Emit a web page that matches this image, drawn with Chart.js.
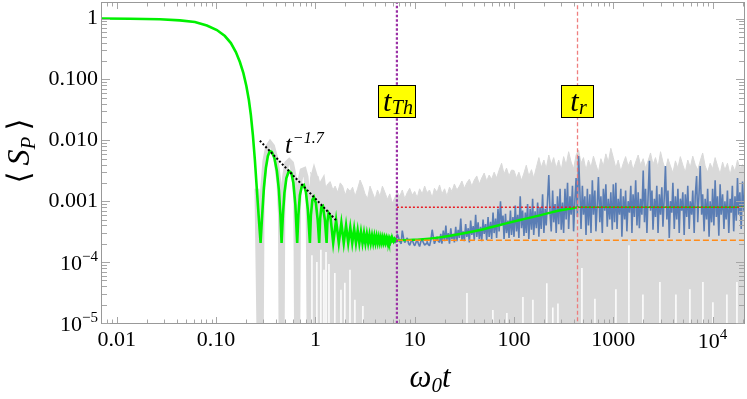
<!DOCTYPE html>
<html><head><meta charset="utf-8">
<script src="https://cdn.jsdelivr.net/npm/chart.js@4.4.1/dist/chart.umd.min.js"></script>
<style>html,body{margin:0;padding:0;background:#fff;}canvas{display:block;}</style>
</head><body>
<canvas id="c" width="747" height="399"></canvas>
<script>
// ---------------- data ----------------
const xTickValues = [0.01, 0.1, 1, 10, 100, 1000, 10000];
const xTickLabels = ['0.01', '0.10', '1', '10', '100', '1000', '10^4'];
const yTickValues = [1e-5, 1e-4, 1e-3, 1e-2, 0.1, 1];
const yTickLabels = ['10^\u22125', '10^\u22124', '0.001', '0.010', '0.100', '1'];

// green: average <S_P>, oscillating decay
const greenT = [0.00708,0.01355,0.0272,0.0432,0.0612,0.0808,0.1019,0.1227,0.141,0.1582,0.1737,0.1884,0.2018,0.2139,0.2241,0.2348,0.2459,0.2576,0.268,0.2806,
0.2912,0.303,0.3173,0.3323,0.348,0.3646,0.3865,0.4096,0.4289,0.4443,0.4566,
0.4709,0.4874,0.5105,0.5409,0.573,0.6004,0.6287,0.6557,
0.6742,0.698,0.7312,0.7659,0.8023,0.8403,0.8803,
0.901,0.9328,0.9658,1.0117,1.0548,1.092,
1.118,1.149,1.19,1.2465,1.297,
1.321,1.358,1.416,1.511,
1.616,1.721,1.826,1.931,2.036,2.141,2.246,2.351,2.456,2.561,2.666,2.771,2.876,2.981,3.086,3.191,3.296,3.401,3.506,3.611,3.716,3.821,3.926,4.031,4.136,4.241,4.346,4.451,4.556,4.661,4.766,4.871,4.976,5.081,5.186,5.291,5.396,5.501,5.606,5.711,5.816,5.921,6.026,6.131,6.236,6.341,6.446,6.551,6.62];
const greenV = [1.0,0.99,0.974,0.934,0.876,0.767,0.647,0.516,0.396,0.282,0.193,0.127,0.078,0.0459,0.026,0.0122,0.00475,0.00153,5.93e-4,2.06e-4,
5.93e-4,1.65e-3,3.51e-3,5.52e-3,6.67e-3,6.43e-3,5.12e-3,3.13e-3,1.53e-3,5.93e-4,2.06e-4,
5.93e-4,1.36e-3,2.4e-3,3.13e-3,2.9e-3,1.99e-3,8.67e-4,2.06e-4,
5.93e-4,1.26e-3,1.78e-3,1.85e-3,1.42e-3,7.18e-4,2.06e-4,
5.93e-4,1.05e-3,1.17e-3,9.33e-4,4.91e-4,2.06e-4,
5.3e-4,8.03e-4,8.34e-4,4.91e-4,2.06e-4,
4.55e-4,6.4e-4,5.71e-4,2.06e-4,
4.9e-4,2.06e-4,4.39e-4,2.06e-4,3.99e-4,2.06e-4,3.7e-4,2.06e-4,3.5e-4,2.06e-4,3.3e-4,2.06e-4,3.12e-4,2.06e-4,3.0e-4,2.06e-4,2.89e-4,2.06e-4,2.81e-4,2.07e-4,2.73e-4,2.07e-4,2.68e-4,2.08e-4,2.63e-4,2.08e-4,2.58e-4,2.09e-4,2.55e-4,2.1e-4,2.52e-4,2.11e-4,2.49e-4,2.12e-4,2.47e-4,2.13e-4,2.44e-4,2.14e-4,2.41e-4,2.16e-4,2.4e-4,2.18e-4,2.37e-4,2.2e-4,2.35e-4,2.22e-4,2.32e-4,2.25e-4,2.28e-4];
const greenSmoothT = [6.62,8.95,11.28,17.94,28.5,45.4,72.1,114.7,182.3,258.2,325.6,382.8,436];
const greenSmoothV = [2.28e-4,2.32e-4,2.35e-4,2.55e-4,2.89e-4,3.37e-4,4.07e-4,4.91e-4,5.86e-4,6.78e-4,7.31e-4,7.64e-4,7.94e-4];

// upper edge of the grey cloud of realisations
const grayT = [0.891,0.944,1.0,1.06,1.12,1.19,
1.26,1.33,1.41,1.5,1.58,1.68,1.78,1.88,2.0,2.11,2.24,2.37,2.51,2.66,2.82,2.99,3.16,3.35,3.55,3.76,3.98,4.22,4.47,4.73,5.01,5.31,5.62,5.96,6.31,6.68,7.08,7.5,7.94,8.41,8.91,9.44,
10,10.6,11.2,11.9,12.6,13.3,14.1,15,15.8,16.8,17.8,18.8,20,21.1,22.4,23.7,25.1,26.6,28.2,29.9,31.6,33.5,35.5,37.6,39.8,42.2,44.7,47.3,50.1,53.1,56.2,59.6,63.1,66.8,70.8,75,79.4,84.1,89.1,94.4,
100,106,112,119,126,133,141,150,158,168,178,188,200,211,224,237,251,266,282,299,316,335,355,376,398,422,447,473,501,531,562,596,631,668,708,750,794,841,891,944,
1000,1060,1120,1190,1260,1330,1410,1500,1580,1680,1780,1880,2000,2110,2240,2370,2510,2660,2820,2990,3160,3350,3550,3760,3980,4220,4470,4730,5010,5310,5620,5960,6310,6680,7080,7500,7940,8410,8910,9440,
10000,10600,11200,11900,12600,13300,14100,15000,15800,16800,17800,18800,20000,21100];
const grayTop = [3.0e-3,2.4e-3,2.1e-3,2.6e-3,1.85e-3,2.2e-3,
1.63e-3,1.92e-3,2.1e-3,1.53e-3,1.77e-3,1.4e-3,2.0e-3,1.77e-3,1.26e-3,1.63e-3,1.45e-3,1.7e-3,1.21e-3,1.6e-3,2.23e-3,1.77e-3,1.32e-3,1.1e-3,1.77e-3,1.38e-3,1.08e-3,1.53e-3,1.21e-3,1.77e-3,1.4e-3,1.08e-3,1.32e-3,9.3e-4,1.15e-3,1.4e-3,1.21e-3,1.53e-3,1.1e-3,1.38e-3,1.63e-3,1.26e-3,
1.45e-3,1.15e-3,1.6e-3,1.32e-3,1.77e-3,1.38e-3,1.53e-3,1.15e-3,1.63e-3,1.4e-3,1.85e-3,1.32e-3,1.6e-3,1.21e-3,1.7e-3,1.45e-3,1.92e-3,1.53e-3,1.77e-3,2.15e-3,1.63e-3,2.0e-3,2.3e-3,1.77e-3,2.23e-3,2.6e-3,1.92e-3,2.4e-3,2.9e-3,2.15e-3,2.69e-3,2.3e-3,3.0e-3,2.4e-3,3.25e-3,4.2e-3,2.8e-3,3.5e-3,2.6e-3,3.25e-3,
3.2e-3,2.4e-3,3.0e-3,2.2e-3,2.9e-3,3.9e-3,2.6e-3,3.3e-3,2.4e-3,3.6e-3,5.2e-3,3.6e-3,4.75e-3,3.4e-3,5.74e-3,4.0e-3,5.2e-3,3.5e-3,4.75e-3,3.25e-3,5.4e-3,3.93e-3,6.5e-3,4.4e-3,3.4e-3,5.74e-3,6.93e-3,4.2e-3,5.2e-3,3.25e-3,4.75e-3,3.6e-3,5.5e-3,4.0e-3,3.0e-3,5.0e-3,3.8e-3,6.0e-3,4.4e-3,7.4e-3,
5.2e-3,3.5e-3,4.75e-3,3.1e-3,4.2e-3,5.4e-3,3.8e-3,4.75e-3,3.25e-3,4.4e-3,5.74e-3,3.93e-3,5.0e-3,3.5e-3,4.6e-3,6.2e-3,4.0e-3,5.2e-3,3.6e-3,6.5e-3,4.4e-3,3.25e-3,5.0e-3,3.8e-3,2.9e-3,4.6e-3,3.5e-3,5.4e-3,3.93e-3,3.0e-3,4.75e-3,3.6e-3,5.5e-3,4.0e-3,3.25e-3,4.6e-3,6.2e-3,3.8e-3,3.0e-3,4.2e-3,
3.4e-3,5.2e-3,3.8e-3,2.8e-3,4.4e-3,3.25e-3,4.2e-3,2.69e-3,3.93e-3,3.1e-3,4.75e-3,3.5e-3,4.0e-3,3.6e-3];

// blue: one realisation
const blueT = [2.99,3.08,3.16,3.26,3.35,3.46,3.55,3.66,3.76,3.88,3.98,4.11,4.22,4.35,4.47,4.61,4.73,4.88,5.01,5.17,5.31,5.48,5.62,5.81,5.96,6.15,6.31,6.52,6.68,6.9,7.08,7.31,7.5,7.75,7.94,8.21,8.41,8.69,8.91,9.21,9.44,9.76,
10,10.3,10.6,10.9,11.2,11.55,11.9,12.2,12.6,13,13.3,13.7,14.1,14.55,15,15.4,15.8,16.3,16.8,17.3,17.8,18.3,18.8,19.4,20,20.6,21.1,21.8,22.4,23.1,23.7,24.5,25.1,25.9,26.6,27.4,28.2,29.1,29.9,30.8,31.6,32.6,33.5,34.6,35.5,36.6,37.6,38.8,39.8,41.1,42.2,43.5,44.7,46.1,47.3,48.8,50.1,51.7,53.1,54.8,56.2,58.1,59.6,61.5,63.1,65.2,66.8,69,70.8,73.1,75,77.5,79.4,82.1,84.1,86.9,89.1,92.1,94.4,97.6,
100,103,106,109,112,115.5,119,122,126,130,133,137,141,145.5,150,154,158,163,168,173,178,183,188,194,200,206,211,218,224,231,237,245,251,259,266,274,282,291,299,308,316,326,335,346,355,366,376,388,398,411,422,435,447,461,473,488,501,517,531,548,562,581,596,615,631,652,668,690,708,731,750,775,794,821,841,869,891,921,944,976,
1000,1030,1060,1090,1120,1155,1190,1220,1260,1300,1330,1370,1410,1455,1500,1540,1580,1630,1680,1730,1780,1830,1880,1940,2000,2060,2110,2180,2240,2310,2370,2450,2510,2590,2660,2740,2820,2910,2990,3080,3160,3260,3350,3460,3550,3660,3760,3880,3980,4110,4220,4350,4470,4610,4730,4880,5010,5170,5310,5480,5620,5810,5960,6150,6310,6520,6680,6900,7080,7310,7500,7750,7940,8210,8410,8690,8910,9210,9440,9760,
10000,10300,10600,10900,11200,11550,11900,12200,12600,13000,13300,13700,14100,14550,15000,15400,15800,16300,16800,17300,17800,18300,18800,19400,20000,20600,21100];
const blueV = [2.2e-4,2.05e-4,2.0e-4,2.3e-4,2.4e-4,2.1e-4,2.1e-4,2.35e-4,2.3e-4,2.0e-4,1.95e-4,2.2e-4,2.5e-4,2.3e-4,2.05e-4,2.15e-4,2.3e-4,2.0e-4,2.0e-4,2.4e-4,2.6e-4,2.1e-4,1.9e-4,2.2e-4,2.3e-4,2.45e-4,2.05e-4,2.2e-4,2.9e-4,2.5e-4,2.2e-4,2.0e-4,3.3e-4,2.4e-4,2.1e-4,2.3e-4,2.5e-4,2.0e-4,1.9e-4,2.2e-4,2.3e-4,2.0e-4,
1.85e-4,2.1e-4,2.3e-4,2.0e-4,1.8e-4,2.2e-4,2.4e-4,2.1e-4,1.9e-4,2.0e-4,2.2e-4,1.95e-4,1.85e-4,2.3e-4,3.4e-4,2.6e-4,2.0e-4,2.3e-4,2.6e-4,2.2e-4,
2.1e-4,2.9e-4,2.0e-4,3.3e-4,2.2e-4,4.0e-4,2.3e-4,3.0e-4,2.0e-4,3.6e-4,2.4e-4,2.9e-4,2.1e-4,3.8e-4,2.2e-4,3.4e-4,2.5e-4,5.2e-4,2.3e-4,3.2e-4,
2.2e-4,4.2e-4,2.6e-4,3.6e-4,2.1e-4,4.8e-4,2.8e-4,3.9e-4,2.3e-4,6.0e-4,2.6e-4,4.5e-4,2.4e-4,3.8e-4,2.2e-4,5.0e-4,2.9e-4,4.2e-4,2.3e-4,5.5e-4,
2.6e-4,4.6e-4,2.4e-4,6.5e-4,3.0e-4,5.2e-4,2.5e-4,7.5e-4,3.2e-4,1.0e-3,4.0e-4,5.8e-4,2.4e-4,6.2e-4,3.0e-4,4.8e-4,2.5e-4,7.0e-4,2.8e-4,5.5e-4,
2.6e-4,8.5e-4,3.2e-4,6.0e-4,2.5e-4,1.2e-3,3.6e-4,7.0e-4,2.7e-4,6.5e-4,3.0e-4,9.0e-4,2.4e-4,7.5e-4,3.4e-4,1.1e-3,2.8e-4,6.8e-4,3.6e-4,9.5e-4,
2.6e-4,8.0e-4,3.5e-4,1.3e-3,3.0e-4,7.5e-4,4.0e-4,1.1e-3,2.7e-3,6.0e-4,3.2e-4,1.5e-3,4.5e-4,9.0e-4,3.0e-4,1.2e-3,4.2e-4,1.6e-3,3.4e-4,9.5e-4,
3.0e-4,1.6e-3,5.0e-4,2.0e-3,3.5e-4,1.2e-3,6.0e-4,1.8e-3,3.2e-4,1.1e-3,2.4e-3,5.5e-4,5.5e-3,1.4e-3,3.5e-4,1.8e-3,6.0e-4,1.2e-3,2.8e-4,1.6e-3,
4.0e-4,1.3e-3,3.0e-4,2.2e-3,6.0e-4,1.5e-3,3.2e-4,9.5e-4,2.5e-3,4.5e-4,1.2e-3,3.0e-4,1.6e-3,7.0e-4,1.9e-3,3.8e-4,1.1e-3,5.0e-4,1.4e-3,3.4e-4,
1.9e-3,4.5e-4,2.0e-3,3.5e-4,1.1e-3,6.0e-4,1.6e-3,2.6e-4,1.2e-3,5.0e-4,1.5e-3,3.2e-4,1.0e-3,6.5e-4,1.8e-3,3.0e-4,1.3e-3,5.5e-4,2.2e-3,4.0e-4,
1.4e-3,3.6e-4,1.1e-3,6.0e-4,3.2e-3,4.5e-4,1.6e-3,3.0e-4,1.2e-3,4.6e-3,7.0e-4,1.5e-3,3.4e-4,1.1e-3,5.5e-4,1.8e-3,3.0e-4,1.3e-3,6.0e-4,1.7e-3,
3.8e-4,1.2e-3,3.8e-3,5.0e-4,1.5e-3,2.5e-4,1.0e-3,6.5e-4,2.0e-3,3.5e-4,1.2e-3,5.0e-4,1.6e-3,3.0e-4,1.1e-3,7.0e-4,1.4e-3,2.8e-4,1.3e-3,5.5e-4,
1.8e-3,3.5e-4,1.0e-3,6.0e-4,1.5e-3,3.0e-4,1.2e-3,2.6e-3,4.5e-4,1.4e-3,3.8e-3,6.0e-4,1.3e-3,3.2e-4,1.1e-3,5.0e-4,1.6e-3,2.6e-4,1.0e-3,4.5e-4,
1.6e-3,4.0e-4,2.2e-3,5.5e-4,1.2e-3,2.7e-4,1.9e-3,6.0e-4,1.3e-3,3.5e-4,1.0e-3,5.0e-4,1.5e-3,3.0e-4,1.1e-3,6.5e-4,1.8e-3,3.2e-4,1.2e-3,4.8e-4,2.4e-3,6.0e-4,1.4e-3,3.5e-4,2.1e-3,7.0e-4,1.3e-3];

// grey realisation with zeros in the early oscillating regime
const grayOscT = [0.258,0.2806,0.291,0.31,0.33,0.35,0.37,0.40,0.43,0.445,0.4566,0.47,0.49,0.515,0.545,0.575,0.605,0.635,0.6557,0.675,0.70,0.735,0.77,0.805,0.845,0.8803,0.90,0.935,0.97,1.01,1.055,1.092,1.12,1.15,1.19,1.245,1.297];
const grayOscV = [1.6e-3,1e-7,1.2e-3,4.5e-3,7.8e-3,9.0e-3,8.0e-3,5.0e-3,2.0e-3,6e-4,1e-7,8e-4,2.5e-3,4.2e-3,4.6e-3,4.2e-3,2.8e-3,1.1e-3,1e-7,8e-4,2.2e-3,3.2e-3,3.3e-3,2.5e-3,1.0e-3,1e-7,9e-4,2.4e-3,3.0e-3,2.4e-3,9e-4,1e-7,9e-4,1.9e-3,2.1e-3,1.2e-3,1e-7];
// gaps (white) in the grey cloud near the bottom
const whiteT = [0.923,1.035,1.136,1.22,1.28,1.37,1.57,1.81,1.98,2.23,2.5,3.01,33.6,61.3,84.8,123,155,214,246,277,483,653,1062,1436,1987,2947,4270,5907,7988,10070,13930,17580];
const whiteTop = [1.3e-4,1.0e-4,1.6e-4,7.5e-5,1.46e-4,9.3e-5,6.6e-5,3.5e-5,4.6e-5,7.5e-5,2.4e-5,1.9e-5,3.1e-5,1.64e-5,1.46e-5,2.67e-5,2.4e-5,4.5e-5,1.8e-5,2.1e-5,8.0e-5,2.5e-5,3.6e-5,1.9e-4,2.95e-5,4.7e-5,2.95e-5,3.6e-5,4.7e-5,2.2e-5,2.95e-5,4.7e-5];

const powerLawT = [0.276, 1.61];
const powerLawV = [0.00985, 4.9e-4];
const tTh = 6.62, tR = 436;
const floorLevel = 2.28e-4, plateauLevel = 7.94e-4;
const xMin = 0.0071, xMax = 20700, yMin = 1e-5, yMax = 1.8;

// ---------------- helpers ----------------
const pts = (ts, vs) => ts.map((t, i) => ({x: t, y: vs[i]}));
const spikes = [];
whiteT.forEach((t, i) => { spikes.push({x: t, y: 1e-7}, {x: t, y: whiteTop[i]}, {x: t, y: 1e-7}); });

const SERIF = '"Liberation Serif", "Times New Roman", serif';
const GRAY = '#d9d9d9';

const base = {showLine: true, pointRadius: 0, clip: 0, fill: false, tension: 0};
const datasets = [
  {...base, data: pts(grayT, grayTop), borderColor: GRAY, backgroundColor: GRAY, borderWidth: 1, fill: 'start', order: 20},
  {...base, data: pts(grayOscT, grayOscV), borderColor: GRAY, borderWidth: 5, order: 19},
  {...base, data: spikes, borderColor: '#ffffff', borderWidth: 1.5, borderJoinStyle: 'bevel', order: 18},
  {...base, data: pts(blueT, blueV), borderColor: '#5a7db4', borderWidth: 1.6, borderJoinStyle: 'bevel', order: 17},
  {...base, data: pts(greenT, greenV), borderColor: '#00f000', borderWidth: 2.6, order: 10},
  {...base, data: pts(greenSmoothT, greenSmoothV), borderColor: '#00f000', borderWidth: 2.4, cubicInterpolationMode: 'monotone', order: 10},
  {...base, data: [{x: tR, y: plateauLevel}, {x: xMax * 1.1, y: plateauLevel}], borderColor: '#00e000', borderWidth: 1.5, order: 11},
  {...base, data: [{x: tTh, y: floorLevel}, {x: xMax * 1.1, y: floorLevel}], borderColor: '#ff8c1a', borderWidth: 1.6, borderDash: [6, 3], order: 9},
  {...base, data: [{x: tTh, y: plateauLevel}, {x: xMax * 1.1, y: plateauLevel}], borderColor: '#e81c24', borderWidth: 1.5, borderDash: [2, 2], order: 8},
  {...base, data: [{x: tTh, y: 1e-7}, {x: tTh, y: 100}], borderColor: '#9a2fa5', borderWidth: 2.2, borderDash: [2.5, 2], order: 7},
  {...base, data: [{x: tR, y: 1e-7}, {x: tR, y: 100}], borderColor: 'rgba(238,120,120,0.95)', borderWidth: 1.3, borderDash: [4, 2.5], order: 7},
  {...base, data: pts(powerLawT, powerLawV), borderColor: '#000000', borderWidth: 2, borderDash: [2, 2], order: 6}
];

// ---------------- decoration plugin ----------------
function minorValues(lo, hi) {
  const out = [];
  for (let k = Math.floor(Math.log10(lo)); k <= Math.ceil(Math.log10(hi)); k++) {
    for (let m = 2; m <= 9; m++) { const v = m * Math.pow(10, k); if (v > lo && v < hi) out.push(v); }
  }
  return out;
}
function fontOf(p) { return (p.style || 'italic') + ' ' + p.size + 'px ' + (p.family || SERIF); }
function seqWidth(ctx, parts) {
  let w = 0;
  parts.forEach(p => { ctx.font = fontOf(p); w += ctx.measureText(p.t).width + (p.gap || 0); });
  return w;
}
function drawSeq(ctx, parts, x0, y0) {
  let x = x0;
  parts.forEach(p => {
    ctx.font = fontOf(p);
    ctx.fillText(p.t, x, y0 + (p.dy || 0));
    x += ctx.measureText(p.t).width + (p.gap || 0);
  });
}
function powerParts(label) {
  const [b, e] = label.split('^');
  return [{t: b, size: 22, style: 'normal'}, {t: e, size: 15, style: 'normal', dy: -9}];
}

const decor = {
  id: 'decor',
  afterDatasetsDraw(chart) {
    const {ctx, chartArea: a, scales: {x, y}} = chart;
    ctx.save();
    // frame
    ctx.strokeStyle = '#999999';
    ctx.lineWidth = 1;
    ctx.strokeRect(a.left - 0.5, a.top - 0.5, a.right - a.left + 1, a.bottom - a.top + 1);
    // inward ticks on all four sides
    ctx.strokeStyle = '#a6a6a6';
    ctx.beginPath();
    const xt = (v, len) => { const p = Math.round(x.getPixelForValue(v)) + 0.5; ctx.moveTo(p, a.bottom); ctx.lineTo(p, a.bottom - len); ctx.moveTo(p, a.top); ctx.lineTo(p, a.top + len); };
    const yt = (v, len) => { const p = Math.round(y.getPixelForValue(v)) + 0.5; ctx.moveTo(a.left, p); ctx.lineTo(a.left + len, p); ctx.moveTo(a.right, p); ctx.lineTo(a.right - len, p); };
    xTickValues.forEach(v => xt(v, 6));
    minorValues(xMin, xMax).forEach(v => xt(v, 3.5));
    yTickValues.forEach(v => yt(v, 8));
    minorValues(yMin, yMax).forEach(v => yt(v, 5));
    ctx.stroke();

    // yellow tags
    ctx.textBaseline = 'alphabetic';
    const tag = (tv, sub, w) => {
      const cx = x.getPixelForValue(tv);
      const top = a.top + 82, h = 33;
      const left = Math.round(cx - w / 2);
      ctx.fillStyle = '#ffff00';
      ctx.fillRect(left, top, w, h);
      ctx.strokeStyle = '#000';
      ctx.lineWidth = 1;
      ctx.strokeRect(left + 0.5, top + 0.5, w - 1, h - 1);
      ctx.fillStyle = '#000';
      const parts = [{t: 't', size: 30, gap: 0.5}, {t: sub, size: 20, dy: 3}];
      const tw = seqWidth(ctx, parts);
      drawSeq(ctx, parts, cx - tw / 2 + 1, top + 26);
    };
    tag(tTh, 'Th', 38);
    tag(tR, 'r', 33);

    // power law annotation
    ctx.fillStyle = '#000';
    const ax = x.getPixelForValue(0.493), ay = y.getPixelForValue(6.18e-3);
    drawSeq(ctx, [{t: 't', size: 25, gap: 1}, {t: '\u22121.7', size: 16, dy: -10}], ax, ay);
    ctx.restore();
  },
  afterDraw(chart) {
    const {ctx, chartArea: a, scales: {x, y}} = chart;
    ctx.save();
    ctx.fillStyle = '#000';
    ctx.textBaseline = 'alphabetic';
    // power-of-ten tick labels (base + raised exponent)
    xTickLabels.forEach((lab, i) => {
      if (lab.indexOf('^') < 0) return;
      const parts = powerParts(lab);
      const w = seqWidth(ctx, parts);
      drawSeq(ctx, parts, x.getPixelForValue(xTickValues[i]) - w / 2, a.bottom + 25);
    });
    yTickLabels.forEach((lab, i) => {
      if (lab.indexOf('^') < 0) return;
      const parts = powerParts(lab);
      const w = seqWidth(ctx, parts);
      drawSeq(ctx, parts, a.left - 4 - w, y.getPixelForValue(yTickValues[i]) + 7.5);
    });
    // x title  ω0 t
    const xp = [{t: '\u03C9', size: 31}, {t: '0', size: 21, dy: 5}, {t: 't', size: 31}];
    const xw = seqWidth(ctx, xp);
    drawSeq(ctx, xp, 430 - xw / 2, 387);
    // y title  <S_P>
    ctx.translate(29, 151);
    ctx.rotate(-Math.PI / 2);
    const yp = [
      {t: '\u27E8', size: 31, style: 'normal', family: '"DejaVu Serif", "DejaVu Sans", serif', gap: 6},
      {t: 'S', size: 32},
      {t: 'P', size: 21, dy: 6, gap: 6},
      {t: '\u27E9', size: 31, style: 'normal', family: '"DejaVu Serif", "DejaVu Sans", serif'}
    ];
    const yw = seqWidth(ctx, yp);
    drawSeq(ctx, yp, -yw / 2, 0);
    ctx.restore();
  }
};

const tickLabel = (vals, labs) => v => { const i = vals.indexOf(v); return (i >= 0 && labs[i].indexOf('^') < 0) ? labs[i] : ''; };

new Chart(document.getElementById('c'), {
  type: 'scatter',
  data: {datasets},
  options: {
    responsive: false,
    animation: false,
    devicePixelRatio: 1,
    layout: {padding: {left: 0, right: 3, top: 3, bottom: 0}},
    plugins: {legend: {display: false}, tooltip: {enabled: false}},
    elements: {point: {radius: 0}},
    scales: {
      x: {
        type: 'logarithmic', min: xMin, max: xMax,
        grid: {display: false, drawTicks: false},
        border: {display: false},
        afterBuildTicks: s => { s.ticks = xTickValues.map(v => ({value: v})); },
        afterFit: s => { s.height = 76; s.paddingLeft = 0; s.paddingRight = 0; },
        ticks: {
          autoSkip: false, maxRotation: 0, padding: 4, color: '#000',
          font: {family: SERIF, size: 22},
          callback: tickLabel(xTickValues, xTickLabels)
        }
      },
      y: {
        type: 'logarithmic', min: yMin, max: yMax,
        grid: {display: false, drawTicks: false},
        border: {display: false},
        afterBuildTicks: s => { s.ticks = yTickValues.map(v => ({value: v})); },
        afterFit: s => { s.width = 102; s.paddingTop = 0; s.paddingBottom = 0; },
        ticks: {
          autoSkip: false, padding: 4, color: '#000',
          font: {family: SERIF, size: 22},
          callback: tickLabel(yTickValues, yTickLabels)
        }
      }
    }
  },
  plugins: [decor]
});
</script>
</body></html>
